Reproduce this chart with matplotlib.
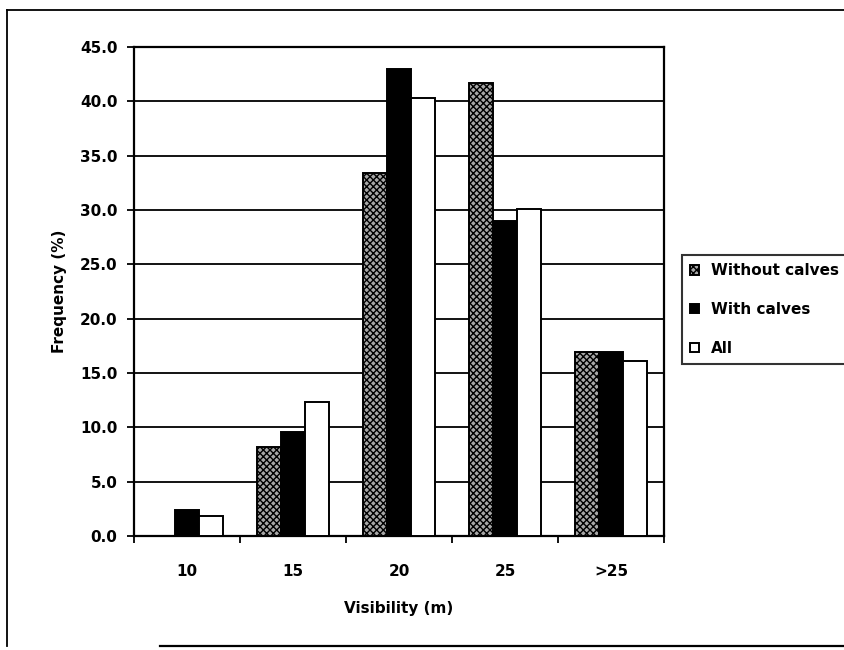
import matplotlib
matplotlib.use("Agg")
import matplotlib.pyplot as plt
from matplotlib.lines import Line2D
import numpy as np

# frequency of sightings by visibility class
categories = ["10", "15", "20", "25", ">25"]
without_calves = [0.0, 8.2, 33.4, 41.7, 16.9]
with_calves = [2.4, 9.6, 43.0, 29.0, 16.9]
all_groups = [1.8, 12.3, 40.3, 30.1, 16.1]
series_names = ["Without calves", "With calves", "All"]
y_ticks = [0, 5, 10, 15, 20, 25, 30, 35, 40, 45]

plt.rcParams["font.family"] = "DejaVu Sans"
plt.rcParams["font.weight"] = "bold"
plt.rcParams["hatch.linewidth"] = 1.0

W, H = 844, 650
fig = plt.figure(figsize=(W / 100, H / 100), dpi=100)
# plot area in pixels: x 134..664, y 47..536
ax = fig.add_axes([134 / W, 1 - 536 / H, (664 - 134) / W, (536 - 47) / H])

x = np.arange(len(categories))
bw = 0.226
styles = [
    dict(facecolor="#a8a8a8", hatch="xxxxx"),
    dict(facecolor="black"),
    dict(facecolor="white"),
]
for i, (vals, name, st) in enumerate(zip([without_calves, with_calves, all_groups],
                                          series_names, styles)):
    ax.bar(x + (i - 1) * bw, vals, bw, label=name, edgecolor="black",
           linewidth=1.4, zorder=3, **st)

ax.set_xlim(-0.5, len(categories) - 0.5)
ax.set_ylim(0, 45)
ax.set_yticks(y_ticks)
ax.set_yticklabels([f"{v:.1f}" for v in y_ticks])
ax.yaxis.grid(True, color="black", linewidth=1.3)
ax.set_axisbelow(True)

ax.set_xticks(x)
ax.set_xticklabels(categories)
ax.set_xticks(np.arange(-0.5, len(categories)), minor=True)
ax.tick_params(axis="x", which="major", length=0, pad=20, labelsize=11)
ax.tick_params(axis="x", which="minor", length=5, width=1.3, direction="out")
ax.tick_params(axis="y", length=5, width=1.3, pad=7, labelsize=11)

for sp in ax.spines.values():
    sp.set_linewidth(1.6)
    sp.set_color("black")

ax.set_xlabel("Visibility (m)", fontsize=11, fontweight="bold", labelpad=16)
ax.set_ylabel("Frequency (%)", fontsize=11, fontweight="bold", labelpad=9)

leg = ax.legend(loc="upper left", bbox_to_anchor=(682 / W, 1 - 255 / H),
                bbox_transform=fig.transFigure, borderaxespad=0,
                fancybox=False, frameon=True, fontsize=11,
                handlelength=0.55, handleheight=0.55, handletextpad=0.8,
                labelspacing=1.55, borderpad=0.55)
leg.get_frame().set_edgecolor("black")
leg.get_frame().set_linewidth(1.5)

# outer chart border (right side falls off the scan)
fig.add_artist(Line2D([7 / W, 7 / W], [1 - 10 / H, 1 - 646 / H], color="black",
                      linewidth=1.3, transform=fig.transFigure))
fig.add_artist(Line2D([7 / W, 1.0], [1 - 10 / H, 1 - 10 / H], color="black",
                      linewidth=1.3, transform=fig.transFigure))
fig.add_artist(Line2D([160 / W, 1.0], [1 - 646 / H, 1 - 646 / H], color="black",
                      linewidth=1.6, transform=fig.transFigure))

fig.savefig("out.png", dpi=100)
